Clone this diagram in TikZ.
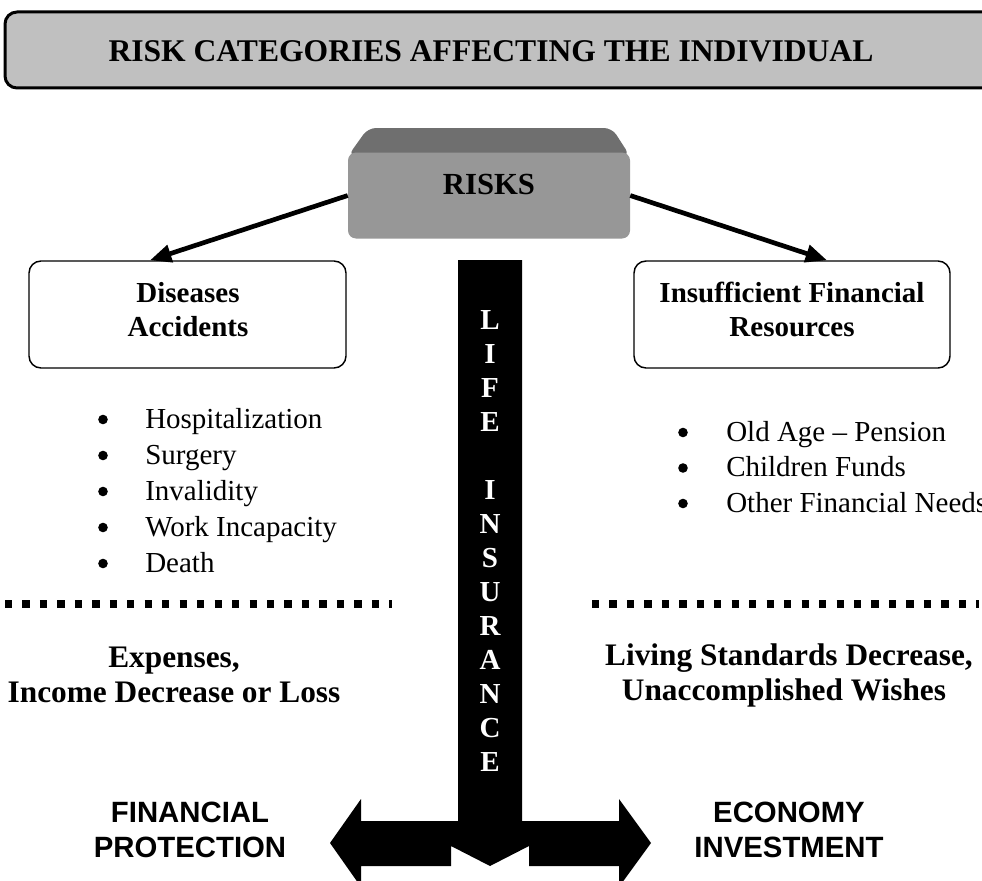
\documentclass[tikz,border=0pt]{standalone}
\usepackage{fontspec}
\setmainfont{Liberation Serif}
\newfontfamily\arialfont{Liberation Sans}
\usetikzlibrary{arrows.meta,calc}

\definecolor{titlegray}{HTML}{C0C0C0}
\definecolor{facegray}{HTML}{979797}
\definecolor{bevelgray}{HTML}{6F6F6F}

\begin{document}
\begin{tikzpicture}[x=0.75pt,y=-0.75pt,
  titletext/.style={font=\bfseries\fontsize{23.7}{28}\selectfont, anchor=base},
  riskstext/.style={font=\bfseries\fontsize{23}{28}\selectfont, anchor=base},
  boxtext/.style={font=\bfseries\fontsize{21.75}{25.5}\selectfont, anchor=base, inner sep=0pt},
  categorybox/.style={draw, line width=1.1pt, rounded corners=9pt, minimum height=80.25pt},
  listtext/.style={font=\fontsize{21.75}{25.5}\selectfont, anchor=base west, inner sep=0pt},
  bulletmark/.style={circle, fill=black, inner sep=0pt, minimum size=7.2pt},
  resulttext/.style={font=\bfseries\fontsize{23.5}{28}\selectfont, anchor=base, inner sep=0pt},
  lifeletter/.style={font=\bfseries\fontsize{21.75}{25.5}\selectfont, text=white, anchor=base, inner sep=0pt},
  sanstext/.style={font=\arialfont\bfseries\fontsize{22}{26}\selectfont, anchor=base, inner sep=0pt},
  riskarrow/.style={line width=3.5pt, -{Triangle[length=16pt,width=13pt]}},
  dotline/.style={line width=5.4pt, dash pattern=on 5.4pt off 7.7pt}
]
\useasboundingbox (0,0) rectangle (982,881);
\clip (0,0) rectangle (982,881);

% title bar (runs off the right edge)
\draw[line width=2.25pt, fill=titlegray, rounded corners=9pt] (5,12) rectangle (1020,88);
\node[titletext] (title) at (491,62) {RISK CATEGORIES AFFECTING THE INDIVIDUAL};

% RISKS block: bevelled top and front face
\fill[bevelgray, rounded corners=6pt] (348,156) -- (368,128) -- (612,128) -- (630,156) -- cycle;
\node[fill=facegray, rounded corners=6pt, minimum width=211.5pt, minimum height=64.5pt, inner sep=0pt] (risks) at (489,195.5) {};
\node[riskstext] (riskslabel) at (489,194) {RISKS};

% risk categories
\node[categorybox, minimum width=237.75pt] (dis) at (187.5,314.5) {};
\node[boxtext] (dis1) at (188,302) {Diseases};
\node[boxtext] (dis2) at (188,336) {Accidents};

\node[categorybox, minimum width=237pt] (fin) at (792,314.5) {};
\node[boxtext] (fin1) at (792,302) {Insufficient Financial};
\node[boxtext] (fin2) at (792,336) {Resources};

\draw[riskarrow] (risks.west) -- ($(dis.north)+(-37.5,0)$);
\draw[riskarrow] (risks.east) -- ($(fin.north)+(35,0)$);

% consequences listed under each category
\foreach \t [count=\i] in {Hospitalization, Surgery, Invalidity, Work Incapacity, Death} {
  \node[bulletmark] (lb\i) at (103,{428+36*(\i-1)-8.5}) {};
  \node[listtext] (lt\i) at (145,{428+36*(\i-1)}) {\t};
}
\foreach \t [count=\i] in {Old Age -- Pension, Children Funds, Other Financial Needs} {
  \node[bulletmark] (rb\i) at (683,{441+35.5*(\i-1)-8.5}) {};
  \node[listtext] (rt\i) at (726,{441+35.5*(\i-1)}) {\t};
}

% separators
\draw[dotline] (5,604) -- (392,604);
\draw[dotline] (592,604) -- (979,604);

% effects
\node[resulttext] (eff1) at (174,667) {Expenses,};
\node[resulttext] (eff2) at (174,702) {Income Decrease or Loss};
\node[resulttext] (eff3) at (789,665) {Living Standards Decrease,};
\node[resulttext] (eff4) at (784,700) {Unaccomplished Wishes};

% LIFE INSURANCE column with the two-way arrow at its foot
\fill[black] (330,843) -- (361,799) -- (361,821) -- (458,821) -- (458,260)
  -- (522,260) -- (522,821) -- (619,821) -- (619,799) -- (651,843)
  -- (619,887) -- (619,866) -- (529,866) -- (529,846) -- (490,866)
  -- (451,846) -- (451,866) -- (361,866) -- (361,887) -- cycle;
\foreach \ch/\k in {L/0, I/1, F/2, E/3, I/5, N/6, S/7, U/8, R/9, A/10, N/11, C/12, E/13} {
  \node[lifeletter] (life\k) at (490,{329+34*\k}) {\ch};
}

% outcomes
\node[sanstext] (out1) at (190,822) {FINANCIAL};
\node[sanstext] (out2) at (190,857) {PROTECTION};
\node[sanstext] (out3) at (789,822) {ECONOMY};
\node[sanstext] (out4) at (789,857) {INVESTMENT};
\end{tikzpicture}
\end{document}
